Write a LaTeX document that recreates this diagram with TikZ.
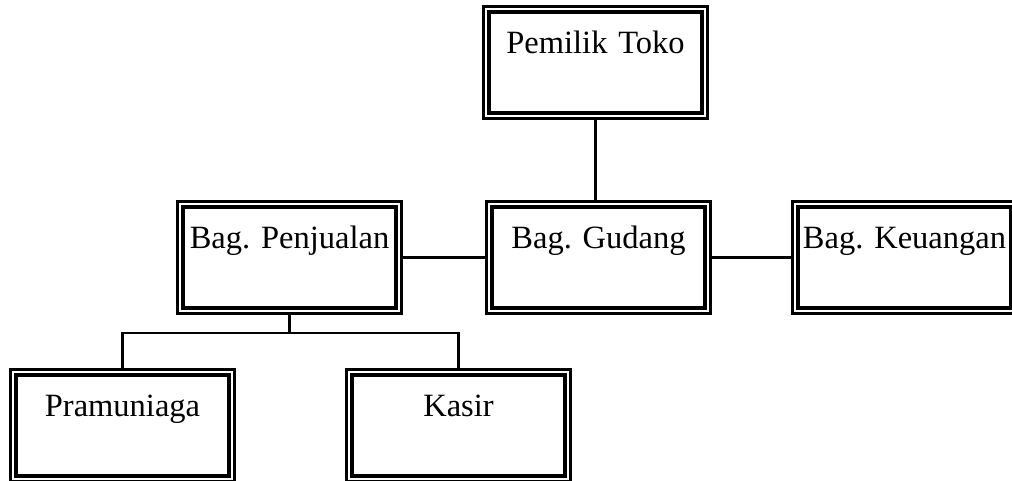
\documentclass[tikz,border=0pt]{standalone}
\usepackage{fontspec}
\setmainfont{Liberation Serif}
\usetikzlibrary{fit}
\begin{document}
\frenchspacing
\begin{tikzpicture}[x=1pt,y=-1pt,
  innerbox/.style={draw=black, line width=3.2pt, outer sep=0pt, inner sep=0pt,
    anchor=north west, text width=213pt, align=center,
    text height=41pt, text depth=60pt,
    font=\fontsize{32.5}{39}\selectfont\frenchspacing},
  outerbox/.style={draw=black, line width=2.3pt, outer sep=0pt, inner sep=5.5pt},
  link/.style={draw=black, line width=2.2pt}]
\useasboundingbox (0,0) rectangle (1012,480);
\clip (0,0) rectangle (1012,480);

% inner frames carrying the titles
\node[innerbox] (pemilikin)    at (489,12)  {Pemilik Toko};
\node[innerbox] (penjualanin)  at (183,207) {Bag. Penjualan};
\node[innerbox] (gudangin)     at (492,207) {Bag. Gudang};
\node[innerbox] (keuanganin)   at (798,207) {Bag. Keuangan};
\node[innerbox] (pramuniagain) at (16,375)  {Pramuniaga};
\node[innerbox] (kasirin)      at (352,375) {Kasir};

% thin outer frames
\node[outerbox, fit=(pemilikin)]    (pemilik)    {};
\node[outerbox, fit=(penjualanin)]  (penjualan)  {};
\node[outerbox, fit=(gudangin)]     (gudang)     {};
\node[outerbox, fit=(keuanganin)]   (keuangan)   {};
\node[outerbox, fit=(pramuniagain)] (pramuniaga) {};
\node[outerbox, fit=(kasirin)]      (kasir)      {};

% connectors
\draw[link] (pemilik.south) -- (pemilik.south |- gudang.north);
\draw[link] (penjualan.east) -- (gudang.west);
\draw[link] (gudang.east) -- (keuangan.west);
\coordinate (split) at ([yshift=-19.5pt]penjualan.south);
\draw[link] (penjualan.south) -- (split);
\draw[link] (pramuniaga.north) |- (split) -| (kasir.north);
\end{tikzpicture}
\end{document}
